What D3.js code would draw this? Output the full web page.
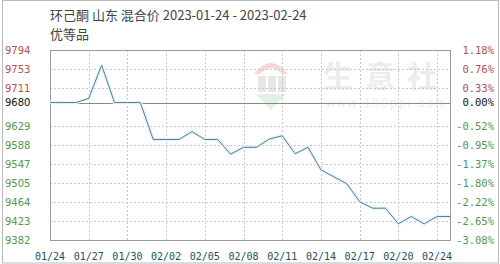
<!DOCTYPE html>
<html>
<head>
<meta charset="utf-8">
<script src="https://cdn.jsdelivr.net/npm/d3@7"></script>
<style>
	body { margin: 0; background: #fff; }
	svg { display: block; }
</style>
</head>
<body>
<div id="chart"></div>
<script>
// data
var dates = ["01/24","01/25","01/26","01/27","01/28","01/29","01/30","01/31","02/01","02/02",
	"02/03","02/04","02/05","02/06","02/07","02/08","02/09","02/10","02/11","02/12",
	"02/13","02/14","02/15","02/16","02/17","02/18","02/19","02/20","02/21","02/22","02/24"];
var prices = [9680, 9680, 9680, 9689, 9761, 9680, 9680, 9680, 9600, 9600,
	9600, 9617, 9600, 9600, 9568, 9583, 9583, 9601, 9608, 9569,
	9583, 9534, 9519, 9504, 9465, 9451, 9451, 9417, 9433, 9417, 9433];
var basePrice = 9680;
var yTicks = [9794, 9752.8, 9711.6, 9680, 9629.2, 9588, 9546.8, 9505.6, 9464.4, 9423.2, 9382];
var leftLabels = ["9794","9753","9711","9680","9629","9588","9547","9505","9464","9423","9382"];
var rightLabels = ["1.18%","0.76%","0.33%","0.00%","-0.52%","-0.95%","-1.37%","-1.80%","-2.22%","-2.65%","-3.08%"];
var title = "环己酮 山东 混合价 2023-01-24 - 2023-02-24";
var subtitle = "优等品";

function init() {
	var w = 500;
	var h = 264;
	var m = { left: 50, right: 450, top: 50, bottom: 240 };

	var svg = d3.select("#chart")
		.append("svg")
		.attr("width", w)
		.attr("height", h);

	// outer frame
	svg.append("rect")
		.attr("x", 2.5).attr("y", 0.5)
		.attr("width", 496).attr("height", 262.5)
		.attr("fill", "none")
		.attr("stroke", "#b8b8b8");

	svg.append("text")
		.attr("x", 50).attr("y", 20)
		.attr("font-family", "'Noto Sans CJK SC', sans-serif")
		.attr("font-size", 13)
		.attr("fill", "#444")
		.text(title);
	svg.append("text")
		.attr("x", 50).attr("y", 39)
		.attr("font-family", "'Noto Sans CJK SC', sans-serif")
		.attr("font-size", 13)
		.attr("fill", "#444")
		.text(subtitle);

	var x = d3.scaleLinear()
		.domain([0, dates.length])
		.range([m.left, m.right]);

	var y = d3.scaleLinear()
		.domain([d3.min(yTicks), d3.max(yTicks)])
		.range([m.bottom, m.top]);

	// watermark
	var wm = svg.append("g");
	wm.append("path")
		.attr("d", "M254,74 Q271,52 288,74 L282,74 Q271,62 260,74 Z")
		.attr("fill", "#f3d6d6");
	[[258, 76], [268, 76], [278, 76]].forEach(function(p) {
		wm.append("rect").attr("x", p[0]).attr("y", p[1])
			.attr("width", 8).attr("height", 16).attr("fill", "#e6e6e6");
	});
	wm.append("path")
		.attr("d", "M256,94 L286,94 L271,110 Z")
		.attr("fill", "#e3f0e3");
	wm.append("text")
		.attr("x", 323).attr("y", 87)
		.attr("font-family", "'Noto Sans CJK SC', sans-serif")
		.attr("font-size", 30)
		.attr("font-weight", "bold")
		.attr("letter-spacing", 12)
		.attr("fill", "#ececec")
		.text("生意社");
	wm.append("text")
		.attr("x", 326).attr("y", 107)
		.attr("font-family", "Arial, 'Liberation Sans', sans-serif")
		.attr("font-size", 12)
		.attr("letter-spacing", 2.2)
		.attr("fill", "#ececec")
		.text("www.100ppi.com");

	// grid
	var grid = svg.append("g");
	grid.selectAll(".hg")
		.data(yTicks.filter(function(d) { return d !== basePrice && d !== d3.min(yTicks) && d !== d3.max(yTicks); }))
		.join("line")
			.attr("x1", m.left).attr("x2", m.right)
			.attr("y1", function(d) { return Math.round(y(d)) + 0.5; })
			.attr("y2", function(d) { return Math.round(y(d)) + 0.5; })
			.attr("stroke", "#c8c8c8")
			.attr("stroke-dasharray", "2,2");

	var xTickIdx = d3.range(3, dates.length, 3);
	grid.selectAll(".vg")
		.data(xTickIdx)
		.join("line")
			.attr("x1", function(d) { return Math.round(x(d)) + 0.5; })
			.attr("x2", function(d) { return Math.round(x(d)) + 0.5; })
			.attr("y1", m.top).attr("y2", m.bottom)
			.attr("stroke", "#c8c8c8")
			.attr("stroke-dasharray", "2,2");

	// base line
	svg.append("line")
		.attr("x1", m.left).attr("x2", m.right)
		.attr("y1", Math.round(y(basePrice)) + 0.5)
		.attr("y2", Math.round(y(basePrice)) + 0.5)
		.attr("stroke", "#8a8a8a");

	// plot border
	svg.append("rect")
		.attr("x", m.left + 0.5).attr("y", m.top + 0.5)
		.attr("width", m.right - m.left).attr("height", m.bottom - m.top)
		.attr("fill", "none")
		.attr("stroke", "#9a9a9a");

	// price line, last value carried to the right edge
	var pts = prices.map(function(v, i) { return [x(i), y(v)]; });
	pts.push([x(dates.length), y(prices[prices.length - 1])]);
	var line = d3.line();

	svg.append("path")
		.attr("d", line(pts))
		.attr("fill", "none")
		.attr("stroke", "#e6f5fa")
		.attr("stroke-width", 3.5)
		.attr("stroke-linejoin", "round");
	svg.append("path")
		.attr("d", line(pts))
		.attr("fill", "none")
		.attr("stroke", "#52808e")
		.attr("stroke-width", 1);

	function labelColour(d) {
		if (d > basePrice) return "#b5514f";
		if (d < basePrice) return "#4f9a4f";
		return "#111";
	}

	// left axis
	svg.append("g").selectAll("text")
		.data(yTicks)
		.join("text")
			.attr("x", 5)
			.attr("y", function(d) { return y(d); })
			.attr("dy", "0.35em")
			.attr("font-family", "'DejaVu Sans', sans-serif")
			.attr("font-size", 10)
			.attr("fill", labelColour)
			.text(function(d, i) { return leftLabels[i]; });

	// right axis
	svg.append("g").selectAll("text")
		.data(yTicks)
		.join("text")
			.attr("x", 494)
			.attr("text-anchor", "end")
			.attr("y", function(d) { return y(d); })
			.attr("dy", "0.35em")
			.attr("font-family", "'DejaVu Sans Mono', monospace")
			.attr("font-size", 10.5)
			.attr("fill", labelColour)
			.text(function(d, i) { return rightLabels[i]; });

	// x axis
	svg.append("g").selectAll("text")
		.data(d3.range(0, dates.length, 3))
		.join("text")
			.attr("x", function(d) { return x(d); })
			.attr("y", 256)
			.attr("dy", "0.35em")
			.attr("text-anchor", "middle")
			.attr("font-family", "'DejaVu Sans Mono', monospace")
			.attr("font-size", 10)
			.attr("fill", "#22505e")
			.text(function(d) { return dates[d]; });
}

window.onload = init;
</script>
</body>
</html>
